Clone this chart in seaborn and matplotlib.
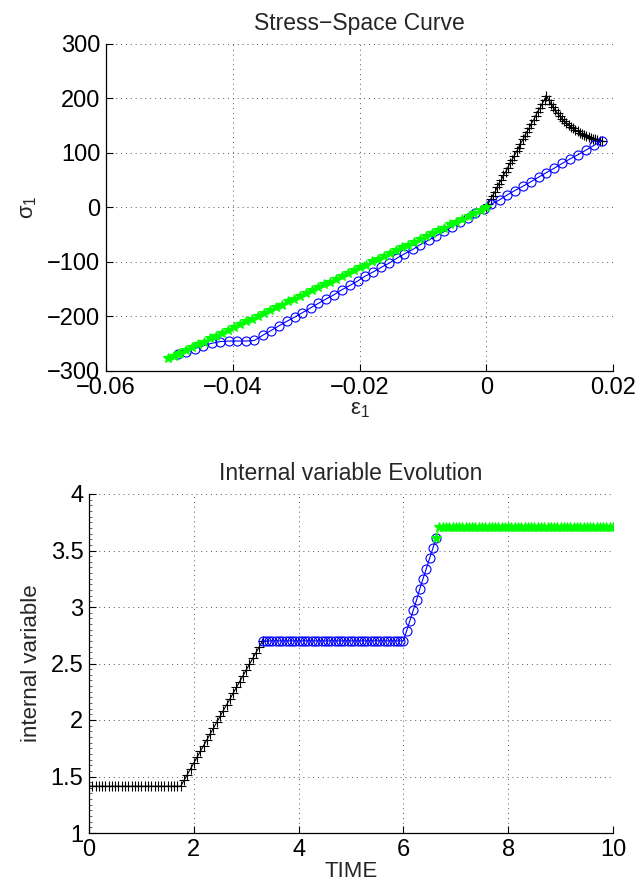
import matplotlib
matplotlib.use("Agg")
import matplotlib.pyplot as plt
import seaborn as sns
import pandas as pd
from matplotlib.ticker import FuncFormatter, MultipleLocator

# ---------------- data: stress-space curve ----------------
black_eps = [0.0, 0.0003, 0.0007, 0.0010, 0.0014, 0.0017, 0.0020, 0.0024, 0.0027, 0.0031,
             0.0034, 0.0037, 0.0041, 0.0044, 0.0048, 0.0051, 0.0054, 0.0058, 0.0061, 0.0064,
             0.0068, 0.0071, 0.0075, 0.0078, 0.0081, 0.0085, 0.0088, 0.0092, 0.0095,
             0.00985, 0.0102, 0.01055, 0.0109, 0.01125, 0.0116, 0.01195, 0.0123, 0.01265, 0.0130,
             0.01335, 0.0137, 0.01405, 0.0144, 0.01475, 0.0151, 0.01545, 0.0158, 0.01615, 0.0165,
             0.01685, 0.0172, 0.01755, 0.0179, 0.0182]
black_sig = [0, 7, 15, 22, 29, 37, 44, 51, 59, 66,
             73, 81, 88, 95, 103, 110, 117, 125, 132, 139,
             146, 154, 161, 168, 176, 183, 190, 198, 205,
             197.4, 190.4, 184.0, 178.1, 172.6, 167.7, 163.0, 158.8, 154.9, 151.3,
             148.0, 145.0, 142.2, 139.6, 137.3, 135.1, 133.1, 131.2, 129.6, 128.0,
             126.5, 125.2, 124.0, 122.9, 122.0]

blue_eps = [0.0182, 0.0170, 0.0157, 0.0145, 0.0132, 0.0120, 0.0107, 0.0095, 0.0083, 0.0070,
            0.0058, 0.0045, 0.0033, 0.0021, 0.0008, -0.0004, -0.0017, -0.0029, -0.0042, -0.0054,
            -0.0066, -0.0079, -0.0091, -0.0104, -0.0116, -0.0129, -0.0141, -0.0153, -0.0166, -0.0178,
            -0.0191, -0.0203, -0.0215, -0.0228, -0.0240, -0.0253, -0.0265, -0.0277, -0.0290, -0.0302,
            -0.0315, -0.0327, -0.0340, -0.0352,
            -0.0366, -0.0379, -0.0393, -0.0406, -0.0420, -0.0433, -0.0447, -0.0460, -0.0474, -0.0487]
blue_sig = [122, 114, 105, 97, 89, 81, 72, 64, 56, 47,
            39, 31, 23, 14, 6, -2, -10, -19, -27, -35,
            -44, -52, -60, -68, -77, -85, -93, -102, -110, -118,
            -126, -135, -143, -151, -160, -168, -176, -184, -193, -201,
            -209, -217, -226, -234,
            -244, -245, -245, -245, -246, -249, -254, -259, -265, -269]

green_eps = [-0.0487,
             -0.0502, -0.0493, -0.0483, -0.0474, -0.0464, -0.0455, -0.0445, -0.0436, -0.0426, -0.0417,
             -0.0407, -0.0398, -0.0388, -0.0379, -0.0369, -0.0360, -0.0350, -0.0341, -0.0332, -0.0322,
             -0.0313, -0.0303, -0.0294, -0.0284, -0.0275, -0.0265, -0.0256, -0.0246, -0.0237, -0.0227,
             -0.0218, -0.0208, -0.0199, -0.0189, -0.0180, -0.0171, -0.0161, -0.0152, -0.0142, -0.0133,
             -0.0123, -0.0114, -0.0104, -0.0095, -0.0085, -0.0076, -0.0066, -0.0057, -0.0047, -0.0038,
             -0.0028, -0.0019, -0.0009, 0.0000]
green_sig = [-269,
             -277, -272, -267, -261, -256, -251, -246, -240, -235, -230,
             -225, -220, -214, -209, -204, -199, -193, -188, -183, -178,
             -172, -167, -162, -157, -152, -146, -141, -136, -131, -125,
             -120, -115, -110, -105, -99, -94, -89, -84, -78, -73,
             -68, -63, -58, -52, -47, -42, -37, -31, -26, -21,
             -16, -10, -5, 0]

# ---------------- data: internal variable evolution ----------------
black_t = [0.0, 0.0625, 0.125, 0.1875, 0.25, 0.3125, 0.375, 0.4375, 0.5, 0.5625,
           0.625, 0.6875, 0.75, 0.8125, 0.875, 0.9375, 1.0, 1.0625, 1.125, 1.1875,
           1.25, 1.3125, 1.375, 1.4375, 1.5, 1.5625, 1.625, 1.6875, 1.75,
           1.8125, 1.875, 1.9375, 2.0, 2.0625, 2.125, 2.1875, 2.25, 2.3125, 2.375,
           2.4375, 2.5, 2.5625, 2.625, 2.6875, 2.75, 2.8125, 2.875, 2.9375, 3.0,
           3.0625, 3.125, 3.1875, 3.25, 3.3125]
black_q = [1.414, 1.414, 1.414, 1.414, 1.414, 1.414, 1.414, 1.414, 1.414, 1.414,
           1.414, 1.414, 1.414, 1.414, 1.414, 1.414, 1.414, 1.414, 1.414, 1.414,
           1.414, 1.414, 1.414, 1.414, 1.414, 1.414, 1.414, 1.414, 1.414,
           1.465, 1.517, 1.568, 1.620, 1.671, 1.723, 1.774, 1.825, 1.877, 1.928,
           1.980, 2.031, 2.083, 2.134, 2.185, 2.237, 2.288, 2.340, 2.391, 2.443,
           2.494, 2.545, 2.597, 2.648, 2.700]

blue_t = [3.3125, 3.375, 3.4375, 3.5, 3.5625, 3.625, 3.6875, 3.75, 3.8125, 3.875,
          3.9375, 4.0, 4.0625, 4.125, 4.1875, 4.25, 4.3125, 4.375, 4.4375, 4.5,
          4.5625, 4.625, 4.6875, 4.75, 4.8125, 4.875, 4.9375, 5.0, 5.0625, 5.125,
          5.1875, 5.25, 5.3125, 5.375, 5.4375, 5.5, 5.5625, 5.625, 5.6875, 5.75,
          5.8125, 5.875, 5.9375, 6.0,
          6.0625, 6.125, 6.1875, 6.25, 6.3125, 6.375, 6.4375, 6.5, 6.5625, 6.625]
blue_q = [2.70, 2.70, 2.70, 2.70, 2.70, 2.70, 2.70, 2.70, 2.70, 2.70,
          2.70, 2.70, 2.70, 2.70, 2.70, 2.70, 2.70, 2.70, 2.70, 2.70,
          2.70, 2.70, 2.70, 2.70, 2.70, 2.70, 2.70, 2.70, 2.70, 2.70,
          2.70, 2.70, 2.70, 2.70, 2.70, 2.70, 2.70, 2.70, 2.70, 2.70,
          2.70, 2.70, 2.70, 2.70,
          2.79, 2.88, 2.97, 3.06, 3.16, 3.25, 3.34, 3.43, 3.52, 3.61]

green_t = [6.625,
           6.6875, 6.75, 6.8125, 6.875, 6.9375, 7.0, 7.0625, 7.125, 7.1875, 7.25,
           7.3125, 7.375, 7.4375, 7.5, 7.5625, 7.625, 7.6875, 7.75, 7.8125, 7.875,
           7.9375, 8.0, 8.0625, 8.125, 8.1875, 8.25, 8.3125, 8.375, 8.4375, 8.5,
           8.5625, 8.625, 8.6875, 8.75, 8.8125, 8.875, 8.9375, 9.0, 9.0625, 9.125,
           9.1875, 9.25, 9.3125, 9.375, 9.4375, 9.5, 9.5625, 9.625, 9.6875, 9.75,
           9.8125, 9.875, 9.9375, 10.0]
green_q = [3.61,
           3.71, 3.71, 3.71, 3.71, 3.71, 3.71, 3.71, 3.71, 3.71, 3.71,
           3.71, 3.71, 3.71, 3.71, 3.71, 3.71, 3.71, 3.71, 3.71, 3.71,
           3.71, 3.71, 3.71, 3.71, 3.71, 3.71, 3.71, 3.71, 3.71, 3.71,
           3.71, 3.71, 3.71, 3.71, 3.71, 3.71, 3.71, 3.71, 3.71, 3.71,
           3.71, 3.71, 3.71, 3.71, 3.71, 3.71, 3.71, 3.71, 3.71, 3.71,
           3.71, 3.71, 3.71, 3.71]

top_xticks = [-0.06, -0.04, -0.02, 0, 0.02]
top_yticks = [-300, -200, -100, 0, 100, 200, 300]
bot_xticks = [0, 2, 4, 6, 8, 10]
bot_yticks = [1, 1.5, 2, 2.5, 3, 3.5, 4]

# ---------------- style ----------------
sns.set_style("white")
plt.rcParams["font.family"] = ["Liberation Sans", "DejaVu Sans"]
plt.rcParams["mathtext.fontset"] = "custom"
plt.rcParams["mathtext.rm"] = "Liberation Sans"
plt.rcParams["mathtext.it"] = "Liberation Sans"
plt.rcParams["axes.unicode_minus"] = True

TICK_FS = 17
LAB_FS = 16
TITLE_FS = 16.5

fig = plt.figure(figsize=(6.38, 8.89), dpi=100)
ax1 = fig.add_axes([106 / 638, 1 - 371 / 889, (613 - 106) / 638, (371 - 44) / 889])
ax2 = fig.add_axes([89 / 638, 1 - 833 / 889, (613 - 89) / 638, (833 - 494) / 889])


def fmt(v, pos):
    s = f"{v:g}"
    if s in ("-0", "0"):
        return "0"
    return s.replace("-", "\u2212")


series_top = [
    (black_eps, black_sig, "k", "+", 7, "none"),
    (blue_eps, blue_sig, "#0000ff", "o", 6.5, "none"),
    (green_eps, green_sig, "#00ff00", "*", 7, "#00ff00"),
]
for xs, ys, col, mk, ms, fc in series_top:
    df = pd.DataFrame({"x": xs, "y": ys})
    sns.lineplot(data=df, x="x", y="y", sort=False, estimator=None, ax=ax1,
                 color=col, marker=mk, markersize=ms, markeredgecolor=col,
                 markerfacecolor=fc, markeredgewidth=0.8, linewidth=0.8)

series_bot = [
    (black_t, black_q, "k", "+", 7, "none"),
    (blue_t, blue_q, "#0000ff", "o", 6.5, "none"),
    (green_t, green_q, "#00ff00", "*", 7, "#00ff00"),
]
for xs, ys, col, mk, ms, fc in series_bot:
    df = pd.DataFrame({"x": xs, "y": ys})
    sns.lineplot(data=df, x="x", y="y", sort=False, estimator=None, ax=ax2,
                 color=col, marker=mk, markersize=ms, markeredgecolor=col,
                 markerfacecolor=fc, markeredgewidth=0.8, linewidth=0.8)

for ax, xt, yt in [(ax1, top_xticks, top_yticks), (ax2, bot_xticks, bot_yticks)]:
    ax.set_xlim(xt[0], xt[-1])
    ax.set_ylim(yt[0], yt[-1])
    ax.set_xticks(xt)
    ax.set_yticks(yt)
    ax.xaxis.set_major_formatter(FuncFormatter(fmt))
    ax.yaxis.set_major_formatter(FuncFormatter(fmt))
    ax.tick_params(direction="in", length=5, width=0.8, labelsize=TICK_FS,
                   colors="black", pad=4, top=False, right=False,
                   bottom=True, left=True)
    for side in ("top", "right"):
        ax.spines[side].set_visible(False)
    for side in ("left", "bottom"):
        ax.spines[side].set_color("black")
        ax.spines[side].set_linewidth(0.9)
    ax.grid(True, color="#555555", linestyle=(0, (1, 4)), linewidth=0.7)
    ax.set_axisbelow(True)

ax2.yaxis.set_minor_locator(MultipleLocator(0.05))
ax2.tick_params(axis="y", which="minor", direction="in", length=2.5, width=0.5, left=True)

ax1.set_title("Stress\u2212Space Curve", fontsize=TITLE_FS, pad=10)
ax1.set_xlabel("\u03b5$_1$", fontsize=LAB_FS, labelpad=0)
ax1.set_ylabel("\u03c3$_1$", fontsize=LAB_FS, labelpad=6)

ax2.set_title("Internal variable Evolution", fontsize=TITLE_FS, pad=10)
ax2.set_xlabel("TIME", fontsize=LAB_FS, labelpad=0)
ax2.set_ylabel("internal variable", fontsize=LAB_FS, labelpad=6)

fig.savefig("out.png", dpi=100, facecolor="white")
